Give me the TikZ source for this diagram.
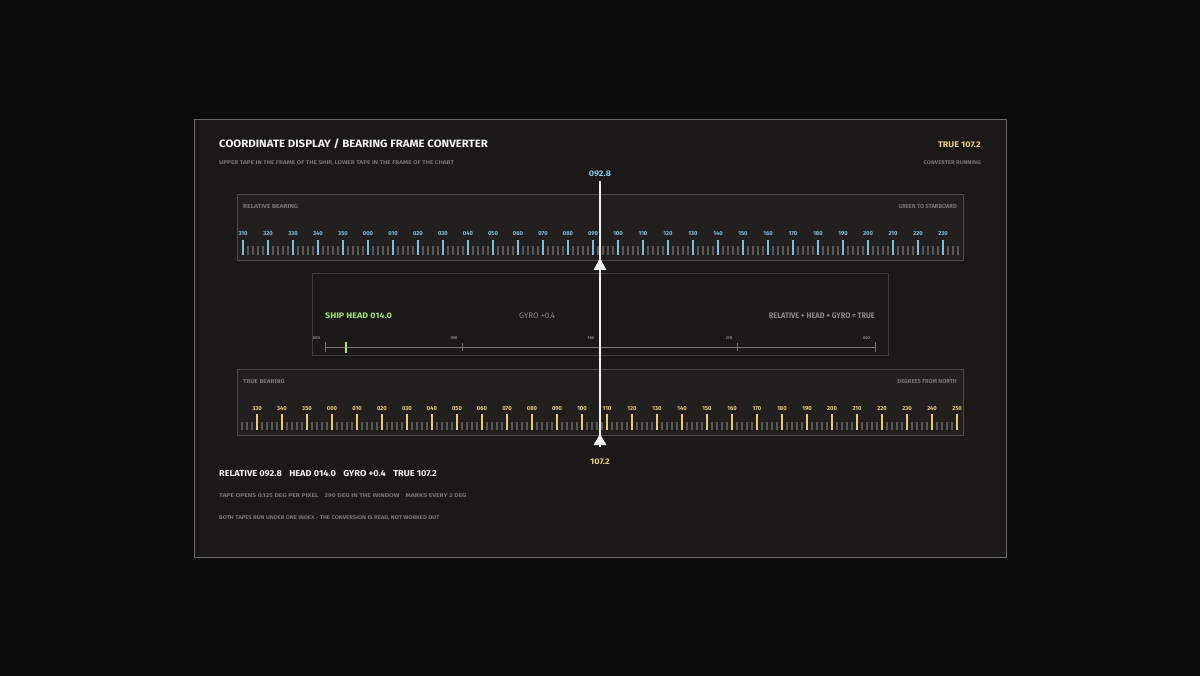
\documentclass[tikz,border=0pt]{standalone}
\usepackage{graphicx}
\usepackage{fontspec}
\setmainfont{Fira Sans}
\definecolor{bg}{HTML}{0B0B0B}
\definecolor{panelfill}{HTML}{1B1918}
\definecolor{panelline}{HTML}{6C6A69}
\definecolor{boxfill}{HTML}{221F1E}
\definecolor{boxline}{HTML}{4C4948}
\definecolor{midline}{HTML}{3E3C3B}
\definecolor{tickgray}{HTML}{5A5756}
\definecolor{relblue}{HTML}{7CC0E0}
\definecolor{truegold}{HTML}{E6CD7E}
\definecolor{headgreen}{HTML}{A8E07A}
\definecolor{txtgray}{HTML}{8A8887}
\definecolor{dimgray}{HTML}{767473}
\definecolor{offwhite}{HTML}{F2F2F2}
\newcommand\fsz[1]{\fontsize{#1}{#1}\selectfont\bfseries}
\newcommand\hsc[2]{\scalebox{#1}[1]{#2}}
\newcommand\threedig[1]{\ifnum#1<10 00#1\else\ifnum#1<100 0#1\else#1\fi\fi}
\tikzset{
  lbl/.style={inner sep=0pt, anchor=base west},
  lblr/.style={inner sep=0pt, anchor=base east},
  lblc/.style={inner sep=0pt, anchor=base},
  tapebox/.style={draw=boxline, fill=boxfill, line width=1pt},
  midbox/.style={draw=midline, fill=panelfill, line width=1pt},
  minortick/.style={draw=tickgray, line width=1.8pt},
  relmajor/.style={draw=relblue, line width=2pt},
  truemajor/.style={draw=truegold, line width=2pt},
  scaleline/.style={draw=dimgray, line width=0.9pt},
  indexline/.style={draw=offwhite, line width=1.6pt},
  pointer/.style={fill=offwhite, draw=none},
}
\begin{document}
\begin{tikzpicture}[x=1pt,y=-1pt]
\useasboundingbox (0,0) rectangle (1200,676);
\fill[bg] (0,0) rectangle (1200,676);
% main panel
\node[draw=panelline, fill=panelfill, line width=1.4pt, minimum width=812pt, minimum height=438pt, inner sep=0pt, anchor=north west] (panel) at (194,119) {};
% header
\node[lbl, text=offwhite, font=\fsz{10.6}] (title) at (219,147.3) {\hsc{1.08}{COORDINATE DISPLAY / BEARING FRAME CONVERTER}};
\node[lbl, text=dimgray, font=\fsz{5.4}] (sub) at (219,164.4) {\hsc{1.19}{UPPER TAPE IN THE FRAME OF THE SHIP, LOWER TAPE IN THE FRAME OF THE CHART}};
\node[lblr, text=truegold, font=\fsz{8.2}] (truehead) at (981,147.3) {\hsc{1.1}{TRUE 107.2}};
\node[lblr, text=dimgray, font=\fsz{5.4}] (running) at (981,164.4) {\hsc{1.09}{CONVERTER RUNNING}};
% tape boxes
\node[tapebox, minimum width=726pt, minimum height=66pt, inner sep=0pt, anchor=north west] (reltape) at (237,194) {};
\node[midbox, minimum width=576pt, minimum height=82pt, inner sep=0pt, anchor=north west] (mid) at (312,273) {};
\node[tapebox, minimum width=726pt, minimum height=66pt, inner sep=0pt, anchor=north west] (truetape) at (237,369) {};
\node[lbl, text=dimgray, font=\fsz{5.8}] (reltitle) at (243,208.3) {\hsc{1.14}{RELATIVE BEARING}};
\node[lblr, text=dimgray, font=\fsz{5.8}] (relnote) at (957,208.3) {GREEN TO STARBOARD};
\node[lbl, text=dimgray, font=\fsz{5.8}] (truetitle) at (243,383.3) {\hsc{1.1}{TRUE BEARING}};
\node[lblr, text=dimgray, font=\fsz{5.8}] (truenote) at (957,383.3) {DEGREES FROM NORTH};
% relative tape ticks (092.8 under index at x=600, 2.5 px per degree)
\foreach \d in {310,312,...,596}{
  \pgfmathsetmacro\xx{600+(\d-452.8)*2.5}
  \pgfmathtruncatemacro\m{mod(\d,10)}
  \ifnum\m=0 \else \draw[minortick] (\xx,246) -- (\xx,255); \fi
}
\foreach \d in {310,320,...,590}{
  \pgfmathsetmacro\xx{600+(\d-452.8)*2.5}
  \pgfmathtruncatemacro\lab{mod(\d,360)}
  \draw[relmajor] (\xx,240) -- (\xx,255);
  \node[lblc, text=relblue, font=\fsz{5.8}] (r\d) at (\xx,235.7) {\threedig{\lab}};
}
% true tape ticks (107.2 under index)
\foreach \d in {324,326,...,610}{
  \pgfmathsetmacro\xx{600+(\d-467.2)*2.5}
  \pgfmathtruncatemacro\m{mod(\d,10)}
  \ifnum\m=0 \else \draw[minortick] (\xx,422) -- (\xx,430); \fi
}
\foreach \d in {330,340,...,610}{
  \pgfmathsetmacro\xx{600+(\d-467.2)*2.5}
  \pgfmathtruncatemacro\lab{mod(\d,360)}
  \draw[truemajor] (\xx,414) -- (\xx,430);
  \node[lblc, text=truegold, font=\fsz{5.8}] (t\d) at (\xx,410.5) {\threedig{\lab}};
}
% middle box
\node[lbl, text=headgreen, font=\fsz{8}] (shiphead) at (325,319) {\hsc{1.12}{SHIP HEAD 014.0}};
\node[lbl, text=txtgray, font=\fontsize{8}{8}\selectfont] (gyro) at (519,319) {GYRO +0.4};
\node[lblr, text=txtgray, font=\fsz{8}] (formula) at (875,319) {\hsc{0.92}{RELATIVE + HEAD + GYRO = TRUE}};
\coordinate (s0) at (325,347);
\coordinate (s90) at (462.5,347);
\coordinate (s270) at (737.5,347);
\coordinate (s360) at (875,347);
\draw[scaleline] (s0) -- (s360);
\draw[scaleline] ([yshift=-5pt]s0) -- ([yshift=5pt]s0);
\draw[scaleline] ([yshift=-5pt]s360) -- ([yshift=5pt]s360);
\draw[scaleline] ([yshift=-4pt]s90) -- ([yshift=4pt]s90);
\draw[scaleline] ([yshift=-4pt]s270) -- ([yshift=4pt]s270);
\node[lblc, text=txtgray, font=\fsz{4}] (l0) at (316.5,339.5) {000};
\node[lblc, text=txtgray, font=\fsz{4}] (l90) at (454,339.5) {090};
\node[lblc, text=txtgray, font=\fsz{4}] (l180) at (591,339.5) {180};
\node[lblc, text=txtgray, font=\fsz{4}] (l270) at (729,339.5) {270};
\node[lblc, text=txtgray, font=\fsz{4}] (l360) at (866.5,339.5) {000};
\coordinate (hd) at (346.4,347);
\draw[draw=headgreen, line width=2pt] ([yshift=-6pt]hd) -- ([yshift=5pt]hd);
% index
\node[lblc, text=relblue, font=\fsz{8.2}] (relread) at (600,176.5) {\hsc{1.1}{092.8}};
\node[lblc, text=truegold, font=\fsz{8.2}] (trueread) at (600,464) {\hsc{1.1}{107.2}};
\coordinate (itop) at (600,181);
\coordinate (ibot) at (600,447);
\draw[indexline] (itop) -- (ibot);
\coordinate (ptop) at (600,258);
\coordinate (pbot) at (600,434);
\fill[pointer] (ptop) -- ++(6.5,12) -- ++(-13,0) -- cycle;
\fill[pointer] (pbot) -- ++(6.5,11) -- ++(-13,0) -- cycle;
% footer
\node[lbl, text=offwhite, font=\fsz{8.6}] (summary) at (219,476) {\hsc{1.07}{RELATIVE 092.8\hspace{0.8em}HEAD 014.0\hspace{0.8em}GYRO +0.4\hspace{0.8em}TRUE 107.2}};
\node[lbl, text=dimgray, font=\fsz{5.4}] (scale) at (219,497) {\hsc{1.25}{TAPE OPENS 0.125 DEG PER PIXEL\hspace{0.9em}290 DEG IN THE WINDOW\hspace{0.9em}MARKS EVERY 2 DEG}};
\node[lbl, text=dimgray, font=\fsz{5.4}] (note) at (219,519.3) {\hsc{1.1}{BOTH TAPES RUN UNDER ONE INDEX - THE CONVERSION IS READ, NOT WORKED OUT}};
\end{tikzpicture}
\end{document}
